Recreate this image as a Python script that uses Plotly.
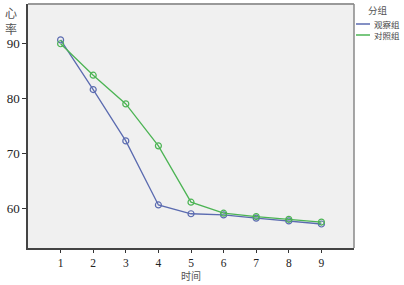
import plotly.graph_objects as go

times = [1, 2, 3, 4, 5, 6, 7, 8, 9]
observe = [90.6, 81.6, 72.3, 60.7, 59.1, 58.9, 58.3, 57.8, 57.25]
control = [89.9, 84.2, 79.0, 71.4, 61.2, 59.2, 58.6, 58.1, 57.6]
series_names = ["观察组", "对照组"]
y_ticks = [60, 70, 80, 90]

BLUE = "#5b6bb0"
GREEN = "#4cb454"
NUMFONT = "Liberation Serif, Noto Sans CJK SC, serif"
CJK = "Noto Sans CJK SC, Liberation Serif, serif"

fig = go.Figure()
for vals, color, name in [(observe, BLUE, series_names[0]), (control, GREEN, series_names[1])]:
    fig.add_trace(go.Scatter(
        x=times, y=vals, mode="lines+markers", name=name,
        line=dict(color=color, width=1.3),
        marker=dict(symbol="circle-open", size=6, color=color, line=dict(width=1.2)),
        showlegend=False,
    ))

fig.update_layout(
    width=404, height=285,
    margin=dict(l=28, r=50, t=4, b=37),
    paper_bgcolor="white",
    plot_bgcolor="#f0f0f0",
    font=dict(family=NUMFONT, size=13, color="#222"),
)
fig.update_xaxes(
    range=[0, 10], tickvals=times, ticks="outside", ticklen=3, tickcolor="#333",
    showgrid=False, zeroline=False, showline=True, linecolor="#444", linewidth=1.5,
    tickfont=dict(family=NUMFONT, size=11.5),
)
fig.update_yaxes(
    range=[52.9, 97.1], tickvals=y_ticks, ticks="outside", ticklen=4, tickcolor="#333",
    showgrid=False, zeroline=False, showline=True, linecolor="#444", linewidth=1.5,
    tickfont=dict(family=NUMFONT, size=13),
)
# plot frame (top/right border)
fig.add_shape(type="line", xref="paper", yref="paper", x0=0, x1=1, y0=1, y1=1,
              line=dict(color="#999", width=2))
fig.add_shape(type="line", xref="paper", yref="paper", x0=1, x1=1, y0=0, y1=1,
              line=dict(color="#888", width=1.5))

PLOT_TOP, PLOT_H = 4, 244

def px_y(ypx):
    return 1 - (ypx - PLOT_TOP) / PLOT_H

def px_x(xpx):
    return (xpx - 28) / 326

# axis titles
fig.add_annotation(text="时间", xref="paper", yref="paper", x=px_x(191), y=px_y(284.5),
                   showarrow=False, font=dict(family=CJK, size=10, color="#555"),
                   yanchor="bottom")
for ch, ypx in [("心", 12), ("率", 28)]:
    fig.add_annotation(text=ch, xref="paper", yref="paper", x=px_x(11), y=px_y(ypx),
                       showarrow=False, font=dict(family=CJK, size=12, color="#555"),
                       xanchor="center", yanchor="middle")

# legend (manual)
fig.add_annotation(text="分组", xref="paper", yref="paper", x=px_x(366), y=px_y(10),
                   xanchor="left", yanchor="middle", showarrow=False,
                   font=dict(family=CJK, size=9.5, color="#555"))
line_gap = 11
for i, color in enumerate([BLUE, GREEN]):
    yp = px_y(24 + i * line_gap)
    fig.add_shape(type="line", xref="paper", yref="paper",
                  x0=px_x(356), x1=px_x(370), y0=yp, y1=yp,
                  line=dict(color=color, width=1.5))
fig.add_annotation(text="<br>".join(series_names), xref="paper", yref="paper",
                   x=px_x(372), y=px_y(24 + line_gap / 2),
                   xanchor="left", yanchor="middle", showarrow=False, align="left",
                   font=dict(family=CJK, size=8.5, color="#444"))

fig.write_html("out.html", config={"displayModeBar": False},
               post_script="document.body.style.margin='0px';")
